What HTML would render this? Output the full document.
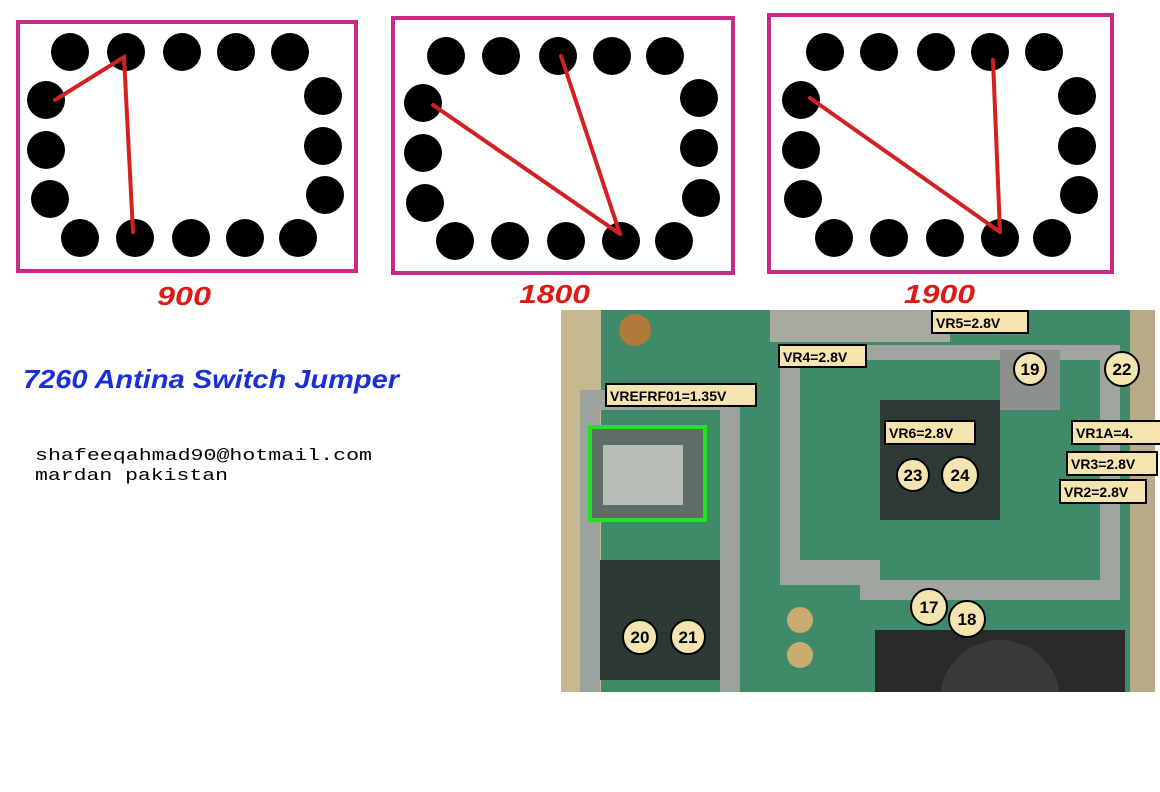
<!DOCTYPE html>
<html><head><style>
body{margin:0;background:#fff;width:1160px;height:792px;overflow:hidden}
svg{display:block}
</style></head><body>
<svg width="1160" height="792" viewBox="0 0 1160 792" xmlns="http://www.w3.org/2000/svg">
<defs><clipPath id="ph"><rect x="561" y="310" width="594" height="382"/></clipPath></defs>
<rect width="1160" height="792" fill="#fff"/>
<g fill="none" stroke="#c82a86" stroke-width="4">
<rect x="18" y="22" width="338" height="249"/>
<rect x="393" y="18" width="340" height="255"/>
<rect x="769" y="15" width="343" height="257"/>
</g>
<g fill="#000">
<circle cx="70" cy="52" r="19"/><circle cx="126" cy="52" r="19"/><circle cx="182" cy="52" r="19"/><circle cx="236" cy="52" r="19"/><circle cx="290" cy="52" r="19"/>
<circle cx="46" cy="100" r="19"/><circle cx="46" cy="150" r="19"/><circle cx="50" cy="199" r="19"/>
<circle cx="323" cy="96" r="19"/><circle cx="323" cy="146" r="19"/><circle cx="325" cy="195" r="19"/>
<circle cx="80" cy="238" r="19"/><circle cx="135" cy="238" r="19"/><circle cx="191" cy="238" r="19"/><circle cx="245" cy="238" r="19"/><circle cx="298" cy="238" r="19"/>
<circle cx="446" cy="56" r="19"/><circle cx="501" cy="56" r="19"/><circle cx="558" cy="56" r="19"/><circle cx="612" cy="56" r="19"/><circle cx="665" cy="56" r="19"/>
<circle cx="423" cy="103" r="19"/><circle cx="423" cy="153" r="19"/><circle cx="425" cy="203" r="19"/>
<circle cx="699" cy="98" r="19"/><circle cx="699" cy="148" r="19"/><circle cx="701" cy="198" r="19"/>
<circle cx="455" cy="241" r="19"/><circle cx="510" cy="241" r="19"/><circle cx="566" cy="241" r="19"/><circle cx="621" cy="241" r="19"/><circle cx="674" cy="241" r="19"/>
<circle cx="825" cy="52" r="19"/><circle cx="879" cy="52" r="19"/><circle cx="936" cy="52" r="19"/><circle cx="990" cy="52" r="19"/><circle cx="1044" cy="52" r="19"/>
<circle cx="801" cy="100" r="19"/><circle cx="801" cy="150" r="19"/><circle cx="803" cy="199" r="19"/>
<circle cx="1077" cy="96" r="19"/><circle cx="1077" cy="146" r="19"/><circle cx="1079" cy="195" r="19"/>
<circle cx="834" cy="238" r="19"/><circle cx="889" cy="238" r="19"/><circle cx="945" cy="238" r="19"/><circle cx="1000" cy="238" r="19"/><circle cx="1052" cy="238" r="19"/>
</g>
<g stroke="#d42020" stroke-width="4" fill="none" stroke-linecap="round">
<polyline points="55,100 124,57 133,232"/>
<line x1="433" y1="105" x2="620" y2="234"/><line x1="561" y1="56" x2="620" y2="234"/>
<line x1="810" y1="98" x2="1000" y2="232"/><line x1="993" y1="60" x2="1000" y2="232"/>
</g>
<g font-family="Liberation Sans, sans-serif" font-style="italic" font-weight="bold" font-size="26" fill="#e01818" lengthAdjust="spacingAndGlyphs">
<text x="157" y="305" textLength="54" lengthAdjust="spacingAndGlyphs">900</text><text x="519" y="303" textLength="71" lengthAdjust="spacingAndGlyphs">1800</text><text x="904" y="303" textLength="71" lengthAdjust="spacingAndGlyphs">1900</text>
</g>
<text x="23" y="388" font-family="Liberation Sans, sans-serif" font-style="italic" font-weight="bold" font-size="26" fill="#1a2fd8" textLength="376" lengthAdjust="spacingAndGlyphs">7260 Antina Switch Jumper</text>
<g font-family="Liberation Mono, monospace" font-size="17" fill="#000">
<text x="35" y="460" textLength="337" lengthAdjust="spacingAndGlyphs">shafeeqahmad90@hotmail.com</text><text x="35" y="480" textLength="193" lengthAdjust="spacingAndGlyphs">mardan pakistan</text>
</g>
<g clip-path="url(#ph)">
<rect x="561" y="310" width="594" height="382" fill="#3f8a68"/>
<rect x="561" y="310" width="40" height="382" fill="#c8b890"/>
<rect x="1130" y="310" width="25" height="382" fill="#b8ab88"/>
<rect x="770" y="310" width="180" height="32" fill="#a8a9a0"/>
<path d="M580 390 H740 V700 H720 V410 H600 V700 H580Z" fill="#9ca39c"/>
<path d="M780 345 H1120 V600 H1100 V360 H800 V560 H880 V580 H1120 V600 H860 V585 H780Z" fill="#a0a69f"/>
<rect x="590" y="425" width="115" height="95" fill="#5c6e66"/>
<rect x="603" y="445" width="80" height="60" fill="#b9bdb8"/>
<rect x="590" y="427" width="115" height="93" fill="none" stroke="#22e022" stroke-width="4"/>
<rect x="880" y="400" width="120" height="120" fill="#2f3a36"/>
<rect x="600" y="560" width="120" height="120" fill="#2e3834"/>
<rect x="875" y="630" width="250" height="62" fill="#2a2a2a"/>
<circle cx="1000" cy="700" r="60" fill="#3a3a3a"/>
<rect x="1000" y="350" width="60" height="60" fill="#8d918d"/>
<circle cx="800" cy="620" r="13" fill="#c9ad70"/><circle cx="800" cy="655" r="13" fill="#c9ad70"/>
<circle cx="635" cy="330" r="16" fill="#b07a3a"/>
</g>
<g font-family="Liberation Sans, sans-serif" font-size="14" fill="#000" stroke="#000" stroke-width="1">
<g fill="#f3e4b0" stroke-width="2">
<rect x="606" y="384" width="150" height="22"/><rect x="779" y="345" width="87" height="22"/>
<rect x="932" y="311" width="96" height="22"/><rect x="885" y="421" width="90" height="23"/>
<rect x="1072" y="421" width="90" height="23"/><rect x="1067" y="452" width="90" height="23"/>
<rect x="1060" y="480" width="86" height="23"/>
<circle cx="1030" cy="369" r="16"/><circle cx="1122" cy="369" r="17"/><circle cx="913" cy="475" r="16"/>
<circle cx="960" cy="475" r="18"/><circle cx="929" cy="607" r="18"/><circle cx="967" cy="619" r="18"/>
<circle cx="640" cy="637" r="17"/><circle cx="688" cy="637" r="17"/>
</g>
<g font-weight="bold" stroke-width="0">
<text x="610" y="401">VREFRF01=1.35V</text><text x="783" y="362">VR4=2.8V</text>
<text x="936" y="328">VR5=2.8V</text><text x="889" y="438">VR6=2.8V</text>
<text x="1076" y="438">VR1A=4.</text><text x="1071" y="469">VR3=2.8V</text><text x="1064" y="497">VR2=2.8V</text>
<g text-anchor="middle" font-size="17"><text x="1030" y="375">19</text><text x="1122" y="375">22</text><text x="913" y="481">23</text><text x="960" y="481">24</text><text x="929" y="613">17</text><text x="967" y="625">18</text><text x="640" y="643">20</text><text x="688" y="643">21</text></g>
</g>
</g>
</svg>
</body></html>
